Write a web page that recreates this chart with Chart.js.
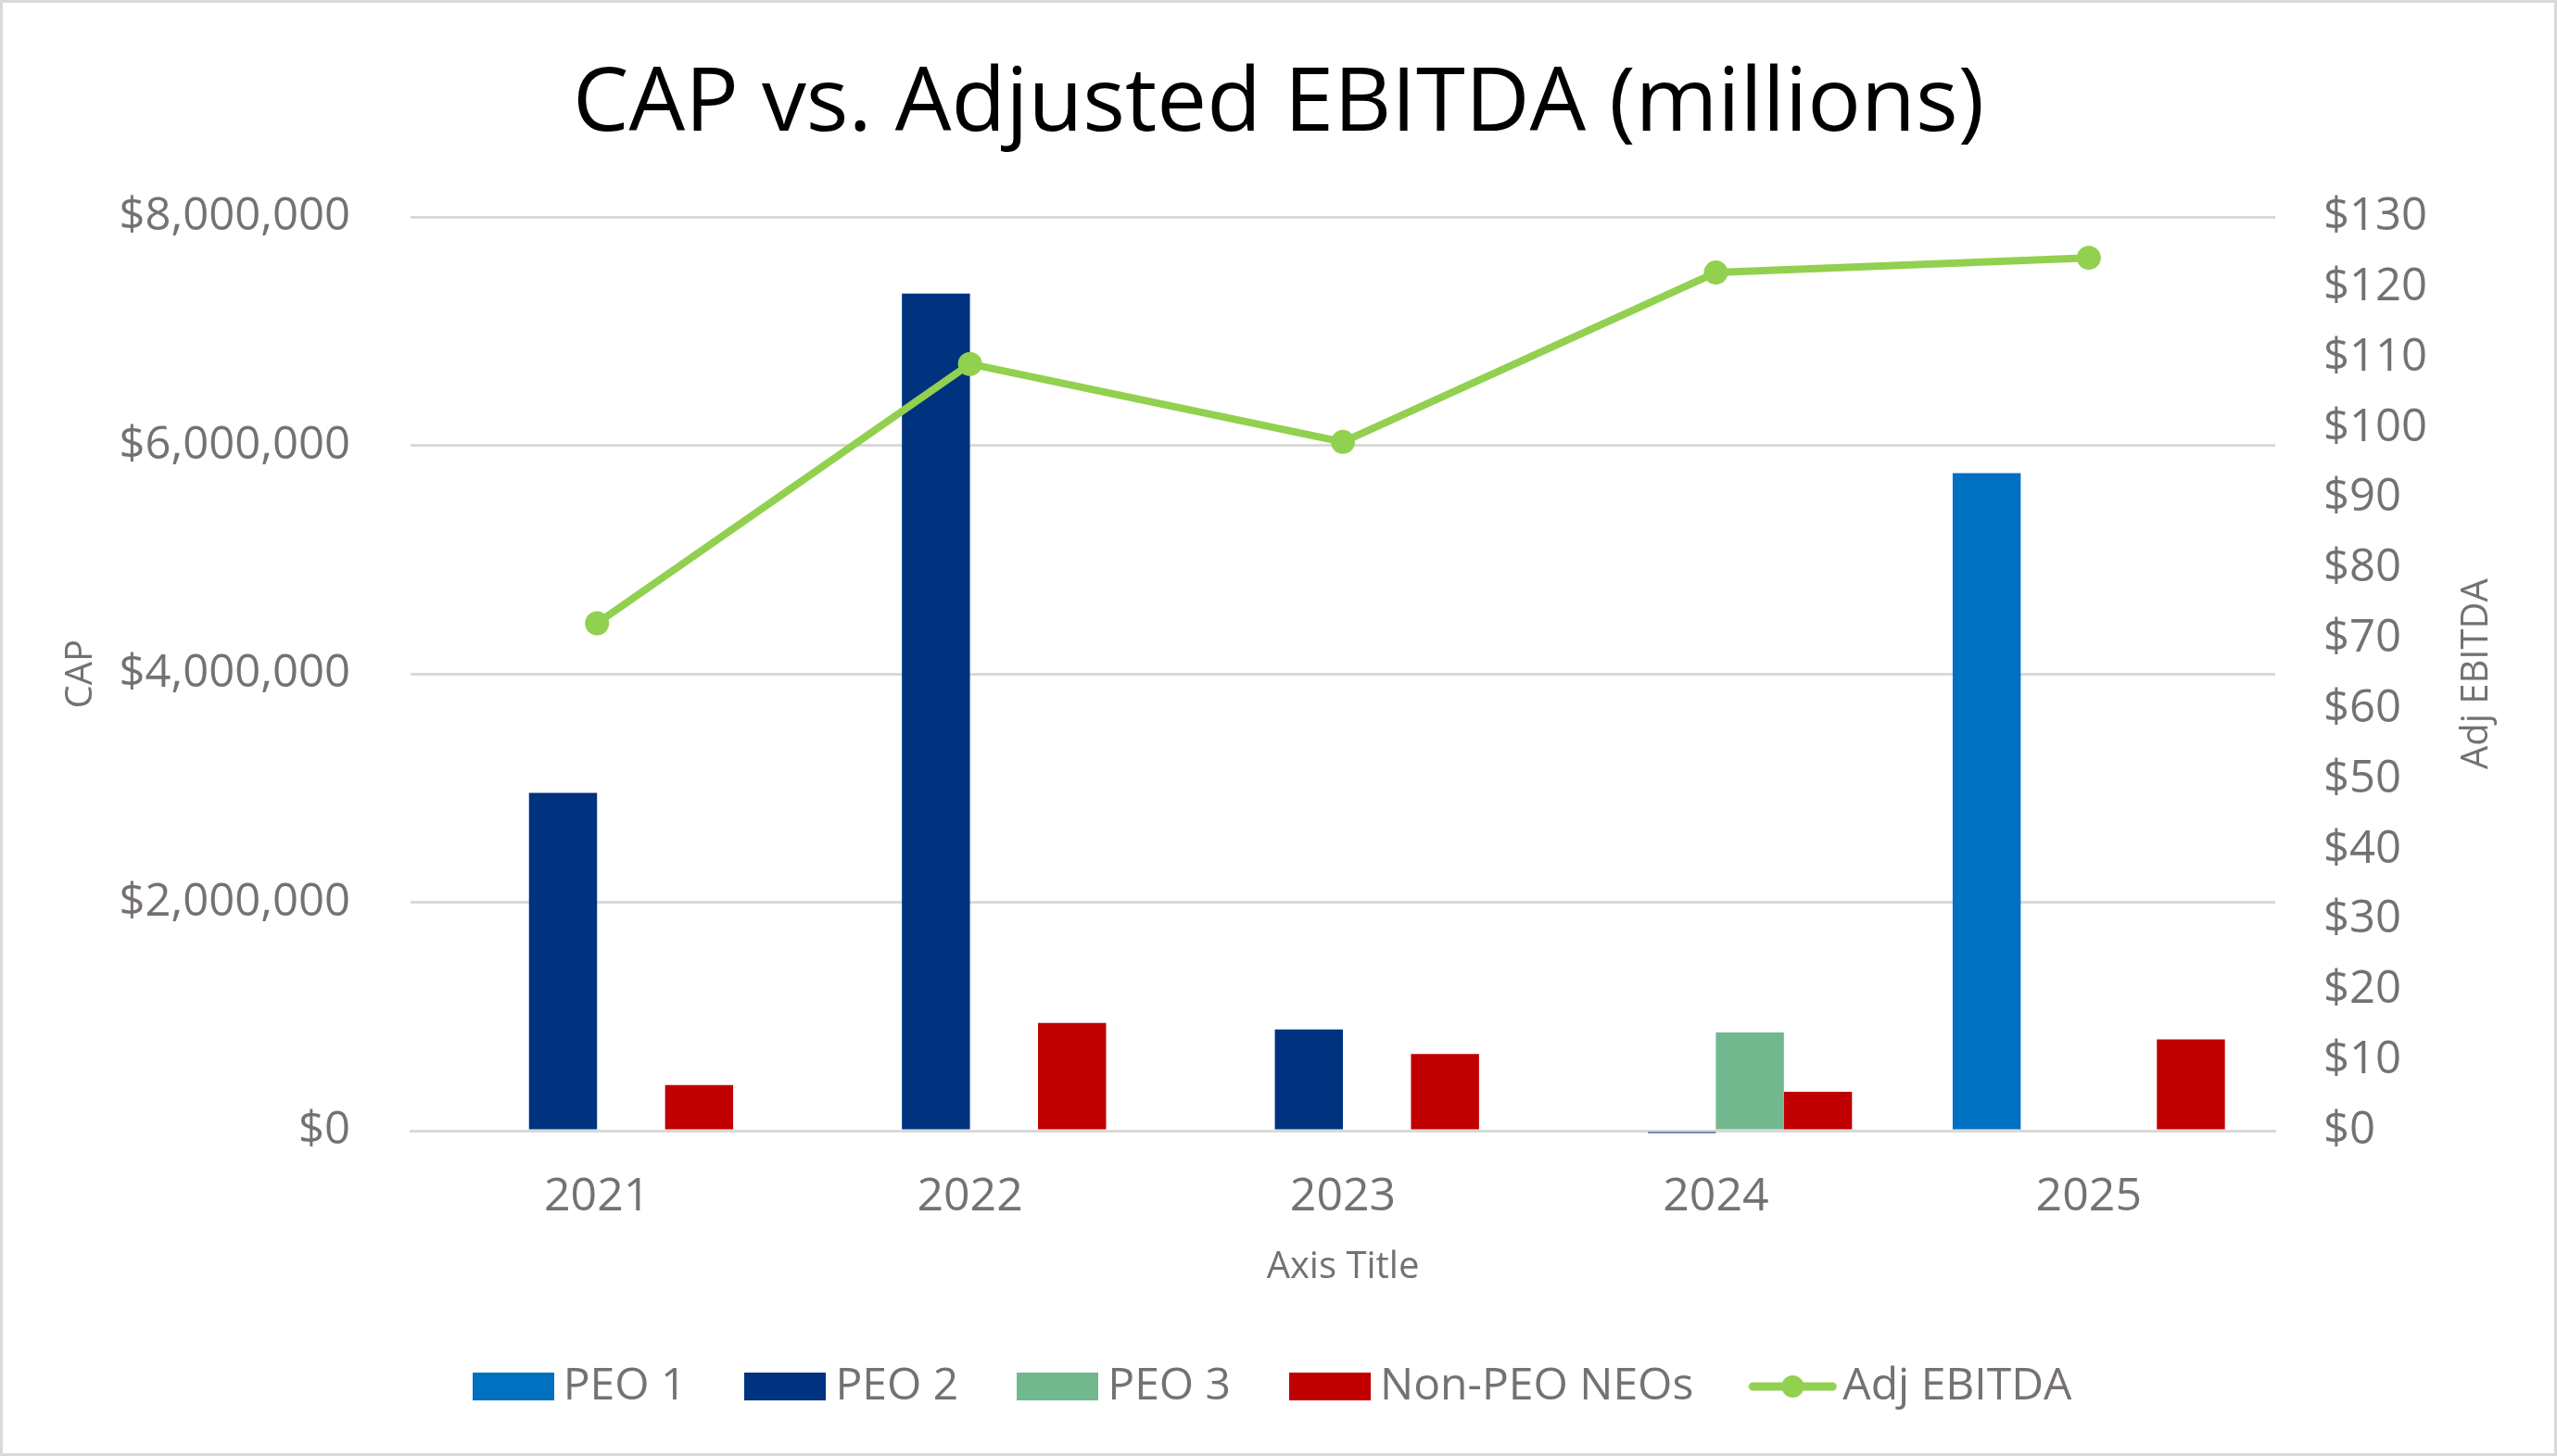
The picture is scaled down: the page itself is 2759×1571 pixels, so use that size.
<!DOCTYPE html>
<html><head><meta charset="utf-8">
<script src="https://cdn.jsdelivr.net/npm/chart.js@4.4.1/dist/chart.umd.min.js"></script>
<style>
html,body{margin:0;padding:0;background:#fff;}
#wrap{width:2759px;height:1571px;box-sizing:border-box;border:3px solid #D9D9D9;background:#fff;}
canvas{display:block;}
</style></head><body>
<div id="wrap"><canvas id="c" width="2753" height="1565"></canvas></div>
<script>
const categories = ['2021', '2022', '2023', '2024', '2025'];
const peo1 = [null, null, null, null, 5757000];
const peo2 = [2957000, 7330000, 886000, -20000, null];
const peo3 = [null, null, null, 860000, null];
const nonPeoNeos = [400000, 943000, 671000, 340000, 800000];
const adjEbitda = [72.2, 109.1, 98.0, 122.1, 124.2];
const capTicks = [0, 2000000, 4000000, 6000000, 8000000];
const ebitdaTicks = [0, 10, 20, 30, 40, 50, 60, 70, 80, 90, 100, 110, 120, 130];
const chartTitle = 'CAP vs. Adjusted EBITDA (millions)';
const leftAxisTitle = 'CAP';
const rightAxisTitle = 'Adj EBITDA';
const xAxisTitle = 'Axis Title';
const seriesNames = ['PEO 1', 'PEO 2', 'PEO 3', 'Non-PEO NEOs', 'Adj EBITDA'];

const COLORS = ['#0070C0', '#00337F', '#71B88F', '#C00000', '#92D050'];
const GRAY = '#767171';
const FONT = "'Open Sans', sans-serif";
Chart.defaults.font.family = FONT;
Chart.defaults.color = GRAY;

function boxImg(color) {
  const c = document.createElement('canvas'); c.width = 88; c.height = 30;
  const x = c.getContext('2d'); x.fillStyle = color; x.fillRect(0, 0, 88, 30); return c;
}
function lineImg(color) {
  const c = document.createElement('canvas'); c.width = 96; c.height = 30;
  const x = c.getContext('2d'); x.strokeStyle = color; x.lineWidth = 9; x.lineCap = 'round';
  x.beginPath(); x.moveTo(5, 15); x.lineTo(91, 15); x.stroke();
  x.fillStyle = color; x.beginPath(); x.arc(48, 15, 12, 0, Math.PI * 2); x.fill(); return c;
}
const legendImgs = [boxImg(COLORS[0]), boxImg(COLORS[1]), boxImg(COLORS[2]), boxImg(COLORS[3]), lineImg(COLORS[4])];

const rightTitlePlugin = {
  id: 'rightTitle',
  afterDraw(chart) {
    const s = chart.scales.y1; const ctx = chart.ctx;
    ctx.save();
    ctx.translate(s.right - 83, (s.top + s.bottom) / 2);
    ctx.rotate(-Math.PI / 2);
    ctx.font = "40px " + FONT; ctx.fillStyle = GRAY;
    ctx.textAlign = 'center'; ctx.textBaseline = 'middle';
    ctx.fillText(rightAxisTitle, 0, 0);
    ctx.restore();
  }
};

const barDs = (label, data, color) => ({
  type: 'bar', label, data, backgroundColor: color, borderWidth: 0,
  yAxisID: 'y', order: 2, clip: false,
  barPercentage: 1.0, categoryPercentage: 0.73
});

new Chart(document.getElementById('c'), {
  data: {
    labels: categories,
    datasets: [
      barDs(seriesNames[0], peo1, COLORS[0]),
      barDs(seriesNames[1], peo2, COLORS[1]),
      barDs(seriesNames[2], peo3, COLORS[2]),
      barDs(seriesNames[3], nonPeoNeos, COLORS[3]),
      {
        type: 'line', label: seriesNames[4], data: adjEbitda, yAxisID: 'y1', order: 0,
        borderColor: COLORS[4], backgroundColor: COLORS[4], borderWidth: 8,
        pointRadius: 13, pointBackgroundColor: COLORS[4], pointBorderWidth: 0,
        tension: 0, fill: false, borderCapStyle: 'round', borderJoinStyle: 'round'
      }
    ]
  },
  options: {
    responsive: false, animation: false, devicePixelRatio: 1,
    layout: { padding: { left: 0, right: 0, top: 0, bottom: 38 } },
    plugins: {
      tooltip: { enabled: false },
      title: {
        display: true, text: chartTitle, color: '#000000',
        font: { size: 96, weight: 'normal', family: FONT },
        padding: { top: 53, bottom: 63 }
      },
      legend: {
        position: 'bottom',
        labels: {
          usePointStyle: true, pointStyleWidth: 60, boxHeight: 30,
          padding: 77, color: GRAY, font: { size: 48, family: FONT },
          generateLabels(chart) {
            return chart.data.datasets.map((ds, i) => ({
              text: ds.label, fillStyle: COLORS[i], strokeStyle: COLORS[i], lineWidth: 0,
              pointStyle: legendImgs[i], datasetIndex: i, hidden: false, fontColor: GRAY
            }));
          }
        }
      }
    },
    scales: {
      x: {
        afterFit(s) { s.height = 175; },
        grid: { display: false, drawTicks: false },
        border: { display: true, color: '#D9D9D9', width: 3 },
        ticks: { padding: 42, font: { size: 50 }, color: GRAY },
        title: { display: true, text: xAxisTitle, color: GRAY, font: { size: 40 }, padding: { top: 0, bottom: 3 } }
      },
      y: {
        position: 'left', min: 0, max: 8000000,
        afterBuildTicks(s) { s.ticks = capTicks.map(v => ({ value: v })); },
        afterFit(s) { s.width = 440; },
        grid: { color: '#D9D9D9', lineWidth: 3, drawTicks: false },
        border: { display: false },
        ticks: {
          padding: 65, font: { size: 49 }, color: GRAY, autoSkip: false,
          callback: v => '$' + Number(v).toLocaleString('en-US')
        },
        title: { display: true, text: leftAxisTitle, color: GRAY, font: { size: 40 }, padding: { top: 61, bottom: 0 } }
      },
      y1: {
        position: 'right', min: 0, max: 130,
        afterBuildTicks(s) { s.ticks = ebitdaTicks.map(v => ({ value: v })); },
        afterFit(s) { s.width = 301; },
        grid: { display: false, drawTicks: false },
        border: { display: false },
        ticks: {
          padding: 52, font: { size: 49 }, color: GRAY, autoSkip: false,
          callback: v => '$' + v
        },
        title: { display: false, text: rightAxisTitle }
      }
    }
  },
  plugins: [rightTitlePlugin]
});
</script>
</body></html>
